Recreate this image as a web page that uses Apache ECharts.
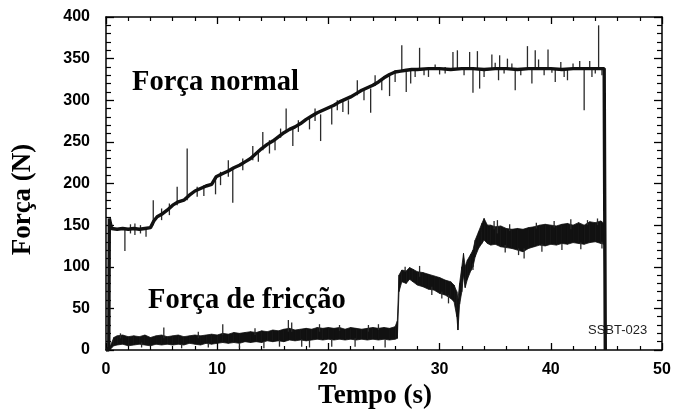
<!DOCTYPE html>
<html>
<head>
<meta charset="utf-8">
<script src="https://cdn.jsdelivr.net/npm/echarts@6/dist/echarts.min.js"></script>
<style>
  html, body { margin: 0; padding: 0; background: #fff; }
  #chart { width: 674px; height: 409px; }
</style>
</head>
<body>
<div id="chart"></div>
<script>
// tick labels
var xTicks = [0, 10, 20, 30, 40, 50];
var yTicks = [0, 50, 100, 150, 200, 250, 300, 350, 400];

// Força normal (main trace)
var normalT = [0, 0.25, 0.3, 0.5, 1, 1.5, 2, 2.5, 3, 3.5, 4, 4.3, 4.6, 5, 5.5, 6, 6.5, 7, 7.5, 8, 8.5, 9, 9.5, 9.9, 10.5,
  11, 11.5, 12, 12.5, 13, 13.5, 14, 14.5, 15, 15.5, 16, 16.5, 17, 17.5, 18, 18.5, 19, 19.5, 20, 20.5, 21, 21.5, 22, 22.5,
  23, 23.5, 24, 24.5, 25, 25.5, 26, 26.5, 27, 27.5, 28, 29, 30, 31, 32, 33, 34, 35, 36, 37, 38, 39, 40, 41, 42, 43, 44,
  44.8, 44.9];
var normalF = [0, 0, 158, 146, 145, 146, 145, 146, 145, 146, 147, 155, 160, 163, 168, 174, 178, 180, 186, 191, 194, 197, 199, 208, 212,
  215, 219, 222, 226, 230, 236, 242, 247, 251, 256, 261, 265, 268, 272, 277, 281, 285, 288, 291, 294, 298, 301, 304, 308,
  312, 315, 318, 322, 327, 331, 334, 335, 336, 337, 337, 338, 338, 337, 338, 338, 337, 338, 338, 337, 338, 338, 338, 337, 338, 338, 338,
  338, 0];

// Força normal spikes: [t, low, high]
var normalSpikes = [
  [1.7, 119, 145], [2.2, 140, 151], [2.6, 138, 152], [3.1, 140, 150], [3.6, 136, 147], [4.25, 150, 180],
  [5.0, 156, 170], [5.7, 162, 176], [6.4, 174, 196], [7.3, 180, 242], [8.2, 184, 196], [8.8, 185, 198],
  [9.85, 187, 206], [10.3, 198, 214], [11.0, 208, 228], [11.4, 177, 218], [12.3, 216, 230], [13.2, 228, 245],
  [13.7, 226, 240], [14.1, 240, 262], [14.7, 236, 252], [15.2, 240, 253], [15.7, 255, 266], [16.2, 262, 290],
  [16.8, 245, 266], [17.3, 262, 276], [18.3, 265, 279], [18.8, 275, 290], [19.3, 251, 283], [20.3, 271, 291],
  [20.8, 288, 300], [21.3, 286, 299], [21.8, 283, 300], [22.6, 306, 324], [23.2, 300, 314], [23.8, 285, 314],
  [24.2, 317, 330], [24.8, 312, 326], [25.5, 305, 330], [26.0, 322, 336], [26.6, 334, 366], [27.0, 310, 335],
  [27.4, 320, 336], [27.8, 328, 337], [28.2, 336, 363], [28.6, 330, 338], [29.0, 328, 338], [29.6, 337, 343],
  [30.0, 331, 338], [30.5, 332, 340], [31.2, 337, 358], [31.6, 337, 360], [32.2, 330, 338], [32.7, 337, 358],
  [33.0, 309, 337], [33.4, 337, 359], [33.6, 314, 337], [34.0, 328, 338], [34.7, 337, 355], [35.0, 337, 345],
  [35.3, 324, 337], [35.4, 337, 354], [35.8, 332, 338], [36.1, 337, 350], [36.5, 337, 344], [36.8, 312, 337],
  [37.3, 330, 338], [37.9, 337, 365], [38.3, 320, 337], [38.6, 337, 360], [38.9, 337, 349], [39.4, 330, 338],
  [39.75, 337, 361], [40.1, 333, 338], [40.4, 322, 337], [40.9, 337, 346], [41.2, 328, 338], [41.5, 324, 338],
  [42.0, 337, 344], [42.6, 337, 347], [43.0, 288, 337], [43.5, 337, 347], [43.7, 328, 337], [44.0, 332, 338],
  [44.3, 337, 390], [44.6, 330, 338]
];

// Força de fricção band: time, lower edge, upper edge
var frictionT = [0, 0.4, 0.7, 1, 1.5, 2, 2.5, 3, 3.5, 4, 4.5, 5, 5.5, 6, 6.5, 7, 7.5, 8, 8.5, 9, 9.5, 10, 10.5, 11,
  11.5, 12, 12.5, 13, 13.5, 14, 14.5, 15, 15.5, 16, 16.5, 17, 17.5, 18, 18.5, 19, 19.5, 20, 20.5, 21, 21.5, 22, 22.5,
  23, 23.5, 24, 24.5, 25, 25.5, 26, 26.2, 26.35, 26.6, 27, 27.3, 27.6, 28, 28.5, 29, 29.5, 30, 30.5, 31, 31.3, 31.55,
  31.65, 31.8, 32, 32.15, 32.3, 32.5, 32.8, 33, 33.2, 33.5, 33.8, 34, 34.3, 34.6, 35, 35.5, 36, 36.5, 37, 37.5, 38,
  38.5, 39, 39.5, 40, 40.5, 41, 41.5, 42, 42.5, 43, 43.5, 44, 44.5, 44.8, 44.9];
var frictionLo = [0, 1, 5, 6, 7, 5, 6, 7, 6, 5, 7, 6, 7, 6, 7, 6, 8, 7, 6, 8, 7, 8, 9, 8,
  9, 8, 10, 9, 10, 9, 11, 10, 11, 10, 12, 11, 12, 11, 12, 13, 12, 13, 12, 13, 12, 13, 12,
  13, 12, 13, 12, 13, 12, 13, 14, 70, 82, 80, 85, 82, 78, 76, 73, 72, 68, 66, 62, 58, 40,
  24, 55, 70, 90, 75, 85, 95, 100, 112, 122, 128, 132, 128, 126, 127, 124, 123, 122, 120, 118, 122,
  124, 126, 125, 127, 126, 128, 127, 129, 128, 127, 129, 130, 128, 127, 0];
var frictionHi = [2, 5, 15, 17, 18, 16, 17, 16, 18, 15, 17, 18, 16, 17, 18, 16, 17, 18, 17, 18, 19, 18, 20, 19,
  21, 20, 21, 22, 21, 23, 22, 24, 23, 25, 26, 24, 25, 26, 25, 27, 26, 27, 26, 27, 25, 27, 26,
  25, 26, 27, 26, 27, 26, 28, 35, 90, 96, 95, 99, 97, 94, 93, 91, 89, 87, 84, 82, 78, 70,
  60, 80, 100, 116, 100, 108, 115, 120, 132, 142, 152, 158, 150, 150, 148, 149, 146, 145, 146, 145, 147,
  148, 150, 151, 150, 149, 151, 152, 150, 153, 150, 154, 153, 155, 152, 3];

// Força de fricção noise marks: [t, low, high]
var frictionSpikes = [
  [1.3, 14, 20], [3.2, 3, 9], [5.2, 14, 27], [6.8, 2, 7], [8.3, 14, 22], [9.2, 3, 8], [10.5, 18, 31],
  [12.0, 2, 8], [13.4, 18, 26], [14.2, 2, 10], [15.6, 4, 12], [16.4, 22, 36], [16.7, 22, 33], [17.6, 4, 13],
  [18.3, 3, 12], [19.2, 22, 31], [20.3, 4, 12], [21.0, 23, 30], [22.4, 4, 14], [23.6, 22, 30], [24.5, 24, 31],
  [25.1, 3, 12], [26.9, 94, 100], [28.2, 88, 101], [29.3, 66, 76], [30.2, 62, 70], [30.8, 56, 66],
  [33.0, 96, 104], [34.9, 145, 155], [35.2, 140, 156], [35.9, 117, 126], [36.3, 143, 151], [37.1, 114, 122],
  [37.6, 110, 122], [38.7, 146, 153], [39.2, 118, 127], [40.3, 147, 155], [41.0, 120, 128], [41.8, 145, 157],
  [42.7, 121, 129], [43.3, 150, 156], [44.2, 150, 158], [44.6, 122, 130]
];

var normalData = normalT.map(function (t, i) { return [t, normalF[i]]; });
var bandData = frictionT.map(function (t, i) { return [t, frictionLo[i], frictionHi[i]]; });

var spikeItem = function (params, api) {
  var p1 = api.coord([api.value(0), api.value(1)]);
  var p2 = api.coord([api.value(0), api.value(2)]);
  return {
    type: 'line',
    shape: { x1: p1[0], y1: p1[1], x2: p2[0], y2: p2[1] },
    style: { stroke: '#2a2a2a', lineWidth: 1.3 }
  };
};

var bandItem = function (params, api) {
  var i = params.dataIndex;
  if (i >= bandData.length - 1) return null;
  var a = bandData[i], b = bandData[i + 1];
  var pts = [
    api.coord([a[0], a[1]]), api.coord([b[0], b[1]]),
    api.coord([b[0], b[2]]), api.coord([a[0], a[2]])
  ];
  return {
    type: 'polygon',
    shape: { points: pts },
    style: { fill: '#111', stroke: '#111', lineWidth: 0.8 }
  };
};

var tickFont = { color: '#000', fontFamily: 'Liberation Sans, Arial', fontWeight: 'bold', fontSize: 16 };
var nameFont = { color: '#000', fontFamily: 'Liberation Serif, Times New Roman', fontWeight: 'bold', fontSize: 27 };
var lineBlack = { show: true, onZero: false, lineStyle: { color: '#000', width: 1.5 } };

function xAxisOf(pos, labels) {
  return {
    type: 'value', position: pos, min: 0, max: 50, interval: 10,
    axisLine: lineBlack,
    axisTick: { show: true, inside: true, length: 7, lineStyle: { color: '#000', width: 1.3 } },
    minorTick: { show: true, splitNumber: 5, length: 4, lineStyle: { color: '#000', width: 1.2 } },
    splitLine: { show: false },
    axisLabel: labels ? Object.assign({ margin: 12, formatter: function (v) { return xTicks.indexOf(v) >= 0 ? v : ''; } }, tickFont) : { show: false }
  };
}
function yAxisOf(pos, labels) {
  return {
    type: 'value', position: pos, min: 0, max: 400, interval: 50,
    axisLine: lineBlack,
    axisTick: { show: true, inside: true, length: 8, lineStyle: { color: '#000', width: 1.3 } },
    minorTick: { show: true, splitNumber: 5, length: 5, lineStyle: { color: '#000', width: 1.2 } },
    splitLine: { show: false },
    axisLabel: labels ? Object.assign({ margin: 16, formatter: function (v) { return yTicks.indexOf(v) >= 0 ? v : ''; } }, tickFont) : { show: false }
  };
}

var xBottom = xAxisOf('bottom', true);
xBottom.name = 'Tempo (s)';
xBottom.nameLocation = 'middle';
xBottom.nameGap = 25;
xBottom.nameTextStyle = Object.assign({ padding: [0, 18, 0, 0] }, nameFont);

var yLeft = yAxisOf('left', true);
yLeft.name = 'Força (N)';
yLeft.nameLocation = 'middle';
yLeft.nameGap = 69;
yLeft.nameTextStyle = Object.assign({ padding: [0, 32, 0, 0] }, nameFont);

var chart = echarts.init(document.getElementById('chart'));
chart.setOption({
  animation: false,
  backgroundColor: '#fff',
  grid: { left: 106, right: 12, top: 17, bottom: 59, outerBoundsMode: 'none', containLabel: false },
  xAxis: [xBottom, xAxisOf('top', false)],
  yAxis: [yLeft, yAxisOf('right', false)],
  graphic: [
    { type: 'text', left: 132, top: 68, style: { text: 'Força normal', font: 'bold 28.5px "Liberation Serif", "Times New Roman"', fill: '#000' } },
    { type: 'text', left: 148, top: 286, style: { text: 'Força de fricção', font: 'bold 28.5px "Liberation Serif", "Times New Roman"', fill: '#000' } },
    { type: 'text', left: 588, top: 324, style: { text: 'SSBT-023', font: '13px "Liberation Sans", Arial', fill: '#222' } }
  ],
  series: [
    {
      type: 'custom', name: 'Força de fricção', renderItem: bandItem, data: bandData,
      encode: { x: 0, y: [1, 2] }, clip: true, z: 2
    },
    {
      type: 'custom', name: 'ruído fricção', renderItem: spikeItem, data: frictionSpikes,
      encode: { x: 0, y: [1, 2] }, clip: true, z: 2
    },
    {
      type: 'custom', name: 'picos normal', renderItem: spikeItem, data: normalSpikes,
      encode: { x: 0, y: [1, 2] }, clip: true, z: 3
    },
    {
      type: 'line', name: 'Força normal', data: normalData, showSymbol: false,
      lineStyle: { color: '#111', width: 3.4 }, z: 4
    }
  ]
});
</script>
</body>
</html>
